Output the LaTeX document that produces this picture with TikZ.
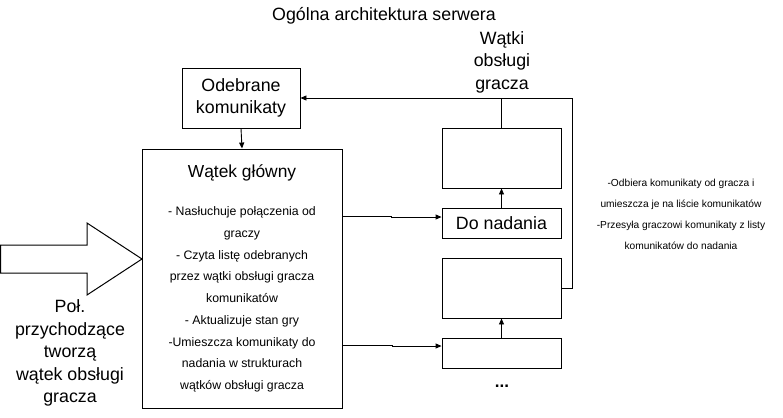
\documentclass[tikz,border=0pt]{standalone}
\usepackage{fontspec}
\setmainfont{Liberation Sans}
\usetikzlibrary{arrows.meta}
\begin{document}
\begin{tikzpicture}[x=1pt,y=-1pt,
  box/.style={draw,line width=0.9pt,inner sep=0pt},
  big/.style={font=\fontsize{17.8}{22.5}\selectfont,align=center,inner sep=0pt},
  small/.style={font=\fontsize{12.3}{21.7}\selectfont,align=center,inner sep=0pt},
  tiny/.style={font=\fontsize{10.2}{21}\selectfont,align=center,inner sep=0pt},
  conn/.style={line width=0.9pt},
  arr/.style={conn,-{Triangle[length=6pt,width=5pt]}}]
\useasboundingbox (0,0) rectangle (783,417);
% title
\node[big] (title) at (384,16) {Ogólna architektura serwera};
\node[big] (watki) at (502,62) {Wątki\\obsługi\\gracza};
% boxes
\node[box,big,minimum width=118pt,minimum height=60pt] (odeb) at (241,98) {Odebrane\\komunikaty};
\node[box,minimum width=200pt,minimum height=259pt] (main) at (242,278.5) {};
\node[font=\fontsize{17.4}{22}\selectfont,inner sep=0pt] (mtitle) at (242,173) {Wątek główny};
\node[small] (mtext) at (242,299.5) {- Nasłuchuje połączenia od\\graczy\\- Czyta listę odebranych\\przez wątki obsługi gracza\\komunikatów\\- Aktualizuje stan gry\\-Umieszcza komunikaty do\\nadania w strukturach\\wątków obsługi gracza};
\node[box,minimum width=119pt,minimum height=60pt] (top) at (501.5,158) {};
\node[box,big,minimum width=119pt,minimum height=30pt] (donad) at (501.5,223) {Do nadania};
\node[box,minimum width=119pt,minimum height=60pt] (low) at (501.5,288) {};
\node[box,minimum width=119pt,minimum height=30pt] (bot) at (501.5,353) {};
\node[font=\fontsize{17}{20}\selectfont\bfseries,inner sep=0pt] (dots) at (502,386) {...};
\node[tiny] (rtext) at (681,214) {-Odbiera komunikaty od gracza i\\umieszcza je na liście komunikatów\\-Przesyła graczowi komunikaty z listy\\komunikatów do nadania};
\node[big] (ltext) at (70,353) {Poł.\\przychodzące\\tworzą\\wątek obsługi\\gracza};
% big arrow
\draw[line width=1pt] (0.5,245) -- (87,245) -- (87,223) -- (142,259) -- (87,295) -- (87,273) -- (0.5,273) -- cycle;
% connectors
\coordinate (j1) at (572,98);
\coordinate (j2) at (501.5,98);
\draw[arr] (odeb.south) -- (main.north);
\draw[arr] (donad.north) -- (top.south);
\draw[arr] (bot.north) -- (low.south);
\draw[conn] (top.north) -- (j2);
\draw[arr] (low.east) -- (low.east -| j1) -- (j1) -- (odeb.east);
\draw[arr] (main.east |- 0,216) -- (391,216) -- (391,217) -- (donad.west |- 0,217);
\draw[arr] (main.east |- 0,345) -- (392,345) -- (392,346) -- (bot.west |- 0,346);
\end{tikzpicture}
\end{document}
